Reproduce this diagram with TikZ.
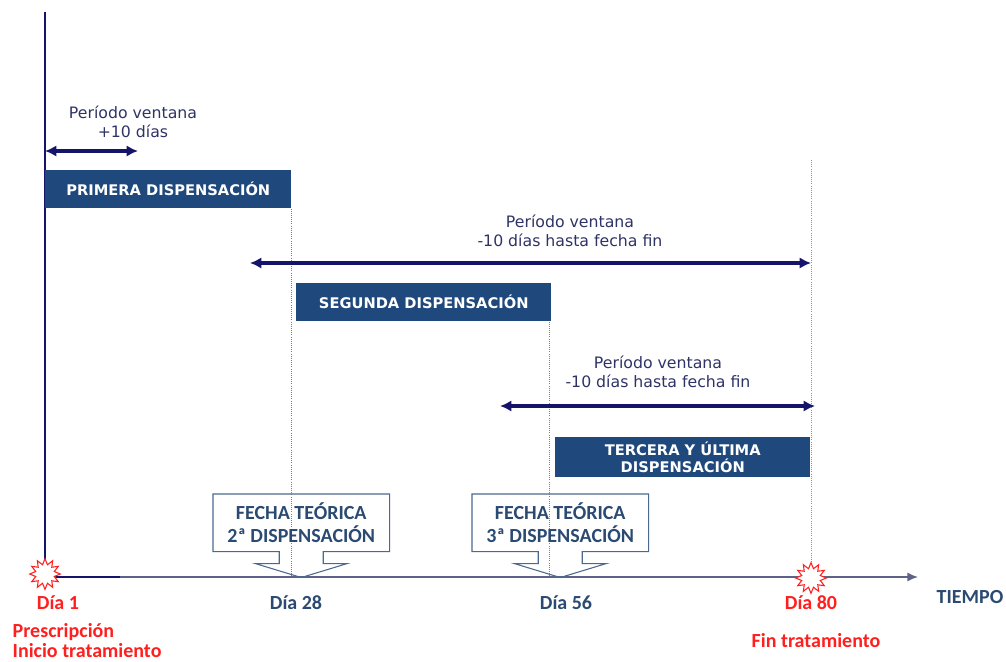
\documentclass[tikz,border=0pt]{standalone}
\usepackage{fontspec}
\setmainfont{DejaVu Sans}
\newfontfamily\calfont{Carlito}
\usepackage{tikz}
\usetikzlibrary{arrows.meta, positioning, calc}
\usetikzlibrary{shapes.geometric}
\definecolor{navyline}{HTML}{14146B}
\definecolor{axisgray}{HTML}{5E6288}
\definecolor{boxblue}{HTML}{1F497D}
\definecolor{labeltext}{HTML}{2E3366}
\definecolor{callouttext}{HTML}{2B4A72}
\definecolor{calloutline}{HTML}{4A6890}
\definecolor{redday}{HTML}{FF1F1F}

\begin{document}
\begin{tikzpicture}[x=0.75pt, y=-0.75pt, >={Latex[length=8.5pt, width=8.5pt]},
    dispbox/.style={fill=boxblue, text=white, font=\fontsize{11}{13}\selectfont\bfseries,
        minimum height=28.5pt, inner sep=0pt, align=center, anchor=north west},
    window/.style={navyline, line width=2.4pt, <->},
    windowlabel/.style={text=labeltext, font=\fontsize{11.8}{14.5}\selectfont, align=center},
    fecha/.style={text=callouttext, font=\calfont\fontsize{15}{17.5}\selectfont\bfseries,
        minimum width=132pt, minimum height=42.75pt, inner sep=0pt, align=center, anchor=north west},
    dayred/.style={text=redday, font=\calfont\fontsize{15}{17}\selectfont\bfseries},
    burst/.style={star, star points=12, star point ratio=1.6, minimum size=23pt, inner sep=0pt,
        draw=redday, fill=white, line width=0.8pt},
    guide/.style={gray, densely dotted, line width=0.6pt}]
    \useasboundingbox (0,0) rectangle (1006,661);

    % ejes
    \coordinate (origin) at (45,577);
    \coordinate (top) at (45,12);
    \coordinate (tend) at (918,577);
    \draw[axisgray, line width=1.4pt, -{Latex[length=8pt, width=7pt]}] (origin) -- (tend);
    \draw[navyline, line width=1.4pt] (origin) -- (120,577);
    \draw[navyline, line width=1.6pt] (origin) -- (top);
    \node[font=\calfont\fontsize{15}{17}\selectfont\bfseries, text=callouttext] (tiempo) at (970,597) {TIEMPO};

    % dispensaciones
    \node[dispbox, minimum width=184.5pt] (prim) at (45,170) {PRIMERA DISPENSACIÓN};
    \node[dispbox, minimum width=191.25pt] (segu) at (296,283) {SEGUNDA DISPENSACIÓN};
    \node[dispbox, minimum width=191.25pt, minimum height=30pt] (terc) at (555,437) {TERCERA Y ÚLTIMA\\DISPENSACIÓN};

    % lineas guia
    \draw[guide] (prim.south east) -- (prim.south east |- origin);
    \draw[guide] (segu.south east) ++(-2,0) coordinate (s2) -- (s2 |- origin);
    \coordinate (finline) at (811,160);
    \draw[redday!70, densely dotted, line width=0.6pt] (finline) -- (finline |- origin);

    % periodos ventana
    \coordinate (w1a) at (45,151);
    \coordinate (w1b) at (138,151);
    \draw[window] (w1a) -- (w1b);
    \node[windowlabel] (lab1) at (133,122) {Período ventana\\+10 días};
    \coordinate (w2a) at (250,263);
    \coordinate (w2b) at (811,263);
    \draw[window] (w2a) -- (w2b);
    \node[windowlabel] (lab2) at (570,231) {Período ventana\\-10 días hasta fecha fin};
    \coordinate (w3a) at (500,406);
    \coordinate (w3b) at (815,406);
    \draw[window] (w3a) -- (w3b);
    \node[windowlabel] (lab3) at (658,372) {Período ventana\\-10 días hasta fecha fin};

    % fechas teoricas
    \foreach \nm/\xx/\txt in {fecha2/213/2ª, fecha3/472/3ª}{
        \node[fecha] (\nm) at (\xx,494) {FECHA TEÓRICA\\\txt{} DISPENSACIÓN};
        \draw[calloutline, line width=0.8pt]
            (\nm.north west) -- (\nm.north east) -- (\nm.south east)
            -- ($(\nm.south)+(22,0)$) -- ($(\nm.south)+(22,12)$) -- ($(\nm.south)+(46,12)$)
            -- ($(\nm.south)+(0,26)$) -- ($(\nm.south)+(-46,12)$) -- ($(\nm.south)+(-22,12)$)
            -- ($(\nm.south)+(-22,0)$) -- (\nm.south west) -- cycle;
    }

    % dias
    \node[burst] (star1) at (45,574) {};
    \node[burst] (star80) at (811,578) {};
    \node[dayred] (dia1) at (58,603) {Día 1};
    \node[dayred, anchor=west] (presc) at (8,632) {Prescripción};
    \node[dayred, anchor=west] (inicio) at (8,651) {Inicio tratamiento};
    \node[dayred, text=callouttext] (dia28) at (296,603) {Día 28};
    \node[dayred, text=callouttext] (dia56) at (566,603) {Día 56};
    \node[dayred] (dia80) at (811,603) {Día 80};
    \node[dayred] (fin) at (816,641) {Fin tratamiento};
\end{tikzpicture}
\end{document}
